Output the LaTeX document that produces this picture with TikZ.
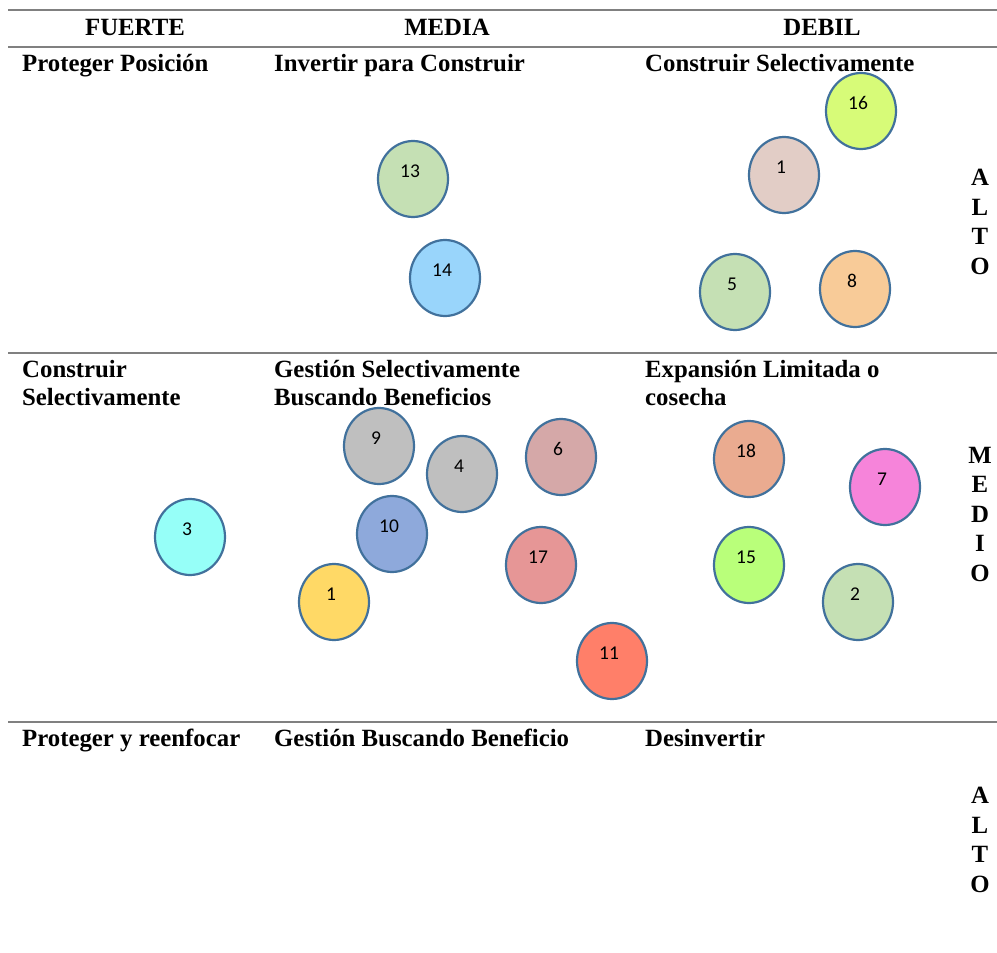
\documentclass[tikz,border=0pt]{standalone}
\usepackage{fontspec}
\setmainfont{Liberation Serif}
\newfontfamily\numfont{Carlito}
\usepackage{tikz}
\usetikzlibrary{shapes.geometric}

\definecolor{rim}{HTML}{41719C}
\definecolor{rulegray}{HTML}{808080}
\definecolor{cGreen}{HTML}{C5E0B4}
\definecolor{cSky}{HTML}{99D5FB}
\definecolor{cLime}{HTML}{D7FB78}
\definecolor{cRose}{HTML}{E2CDC6}
\definecolor{cPeach}{HTML}{F8CB98}
\definecolor{cGray}{HTML}{BFBFBF}
\definecolor{cMauve}{HTML}{D5A8A8}
\definecolor{cCyan}{HTML}{96FFF8}
\definecolor{cBlue}{HTML}{8EA9DB}
\definecolor{cGold}{HTML}{FFD966}
\definecolor{cPink}{HTML}{E69696}
\definecolor{cSalmon}{HTML}{FF7F69}
\definecolor{cTerra}{HTML}{EAAB90}
\definecolor{cMagenta}{HTML}{F684DA}
\definecolor{cGrass}{HTML}{B9FF7A}

\begin{document}
\begin{tikzpicture}[x=1pt,y=-1pt]
    \tikzset{rule/.style={draw=rulegray,line width=2pt}}
    \tikzset{head/.style={font=\bfseries\fontsize{24.8}{28}\selectfont,inner sep=0pt}}
    \tikzset{cell/.style={head,anchor=base west,align=left}}
    \tikzset{side/.style={head,align=center,font=\bfseries\fontsize{24.8}{29.5}\selectfont}}
    \tikzset{ball/.style={ellipse,draw=rim,line width=2.2pt,inner sep=0pt,
                          minimum width=70pt,minimum height=76pt}}
    \tikzset{num/.style={font=\numfont\fontsize{19.5}{22}\selectfont,xshift=-3pt,yshift=8pt}}
    \useasboundingbox (0,0) rectangle (997,953);

    % table rules
    \draw[rule] (8,10) -- (997,10);
    \draw[rule] (8,47) -- (997,47);
    \draw[rule] (8,353) -- (997,353);
    \draw[rule] (8,722) -- (997,722);

    % column heads
    \node[head,anchor=base] (fuerte) at (135,35) {FUERTE};
    \node[head,anchor=base] (media) at (447,35) {MEDIA};
    \node[head,anchor=base] (debil) at (822,35) {DEBIL};

    % cells (two-line cells sit on their last baseline)
    \node[cell] (p11) at (22,71) {Proteger Posición};
    \node[cell] (p12) at (274,71) {Invertir para Construir};
    \node[cell] (p13) at (645,71) {Construir Selectivamente};
    \node[cell] (p21) at (22,405) {Construir\\Selectivamente};
    \node[cell] (p22) at (274,405) {Gestión Selectivamente\\Buscando Beneficios};
    \node[cell] (p23) at (645,405) {Expansión Limitada o\\cosecha};
    \node[cell] (p31) at (22,746) {Proteger y reenfocar};
    \node[cell] (p32) at (274,746) {Gestión Buscando Beneficio};
    \node[cell] (p33) at (645,746) {Desinvertir};

    % row heads
    \node[side] (alto) at (980,222) {A\\L\\T\\O};
    \node[side] (medio) at (980,514) {M\\E\\D\\I\\O};
    \node[side] (altob) at (980,840) {A\\L\\T\\O};

    % units
    \node[ball,fill=cGreen,label={[num]center:13}] (u13) at (413,179) {};
    \node[ball,fill=cSky,label={[num]center:14}] (u14) at (445,278) {};
    \node[ball,fill=cLime,label={[num]center:16}] (u16) at (861,111) {};
    \node[ball,fill=cRose,label={[num]center:1}] (u1a) at (784,175) {};
    \node[ball,fill=cGreen,label={[num]center:5}] (u5) at (735,292) {};
    \node[ball,fill=cPeach,label={[num]center:8}] (u8) at (855,289) {};
    \node[ball,fill=cGray,label={[num]center:9}] (u9) at (379,446) {};
    \node[ball,fill=cGray,label={[num]center:4}] (u4) at (462,474) {};
    \node[ball,fill=cMauve,label={[num]center:6}] (u6) at (561,457) {};
    \node[ball,fill=cCyan,label={[num]center:3}] (u3) at (190,537) {};
    \node[ball,fill=cBlue,label={[num]center:10}] (u10) at (392,534) {};
    \node[ball,fill=cGold,label={[num]center:1}] (u1b) at (334,602) {};
    \node[ball,fill=cPink,label={[num]center:17}] (u17) at (541,565) {};
    \node[ball,fill=cSalmon,label={[num]center:11}] (u11) at (612,661) {};
    \node[ball,fill=cTerra,label={[num]center:18}] (u18) at (749,459) {};
    \node[ball,fill=cMagenta,label={[num]center:7}] (u7) at (885,487) {};
    \node[ball,fill=cGrass,label={[num]center:15}] (u15) at (749,565) {};
    \node[ball,fill=cGreen,label={[num]center:2}] (u2) at (858,602) {};
\end{tikzpicture}
\end{document}
